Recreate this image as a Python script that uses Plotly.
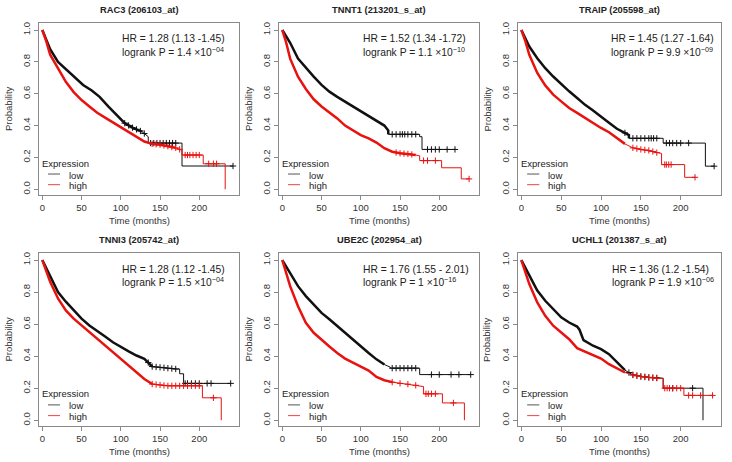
import numpy as np
import plotly.graph_objects as go

# ---------------- data ----------------
titles = ["RAC3 (206103_at)", "TNNT1 (213201_s_at)", "TRAIP (205598_at)",
          "TNNI3 (205742_at)", "UBE2C (202954_at)", "UCHL1 (201387_s_at)"]
hr_labels = ["HR = 1.28 (1.13 -1.45)", "HR = 1.52 (1.34 -1.72)", "HR = 1.45 (1.27 -1.64)",
             "HR = 1.28 (1.12 -1.45)", "HR = 1.76 (1.55 - 2.01)", "HR = 1.36 (1.2 -1.54)"]
p_mantissa = ["1.4", "1.1", "9.9", "1.5", "1", "1.9"]
p_exponent = ["−04", "−10", "−09", "−04", "−16", "−06"]
x_ticks = [0, 50, 100, 150, 200]
y_ticks = [0.0, 0.2, 0.4, 0.6, 0.8, 1.0]
y_ticklabels = ["0.0", "0.2", "0.4", "0.6", "0.8", "1.0"]

# RAC3
rac3_low_t = [0, 5, 10, 20, 31, 42, 52, 63, 73, 84, 95, 105, 116, 127, 135, 135, 178, 178, 243]
rac3_low_s = [1.0, 0.94, 0.88, 0.80, 0.75, 0.70, 0.655, 0.62, 0.58, 0.52, 0.465, 0.415, 0.384, 0.362, 0.33, 0.29, 0.29, 0.146, 0.146]
rac3_low_c = [105, 110, 115, 120, 125, 130, 138, 142, 146, 150, 154, 158, 162, 166, 170, 243]
rac3_high_t = [0, 5, 10, 20, 30, 40, 50, 60, 70, 80, 90, 100, 110, 120, 130, 140, 150, 160, 170, 178, 178, 205, 205, 233, 233]
rac3_high_s = [1.0, 0.93, 0.845, 0.76, 0.675, 0.61, 0.56, 0.52, 0.48, 0.45, 0.42, 0.395, 0.365, 0.33, 0.30, 0.285, 0.28, 0.27, 0.26, 0.245, 0.215, 0.215, 0.16, 0.16, 0.0]
rac3_high_c = [140, 145, 150, 155, 160, 165, 170, 175, 182, 185, 188, 192, 196, 200, 212, 218, 222]

# TNNT1
tnnt1_low_t = [0, 5, 10, 20, 30, 40, 50, 60, 70, 80, 90, 100, 110, 120, 130, 135, 135, 175, 175, 178, 178, 220]
tnnt1_low_s = [1.0, 0.96, 0.92, 0.82, 0.76, 0.707, 0.655, 0.613, 0.58, 0.55, 0.52, 0.487, 0.456, 0.425, 0.40, 0.37, 0.345, 0.345, 0.33, 0.33, 0.25, 0.25]
tnnt1_low_c = [140, 145, 150, 153, 156, 160, 165, 170, 185, 190, 195, 200, 210, 220]
tnnt1_high_t = [0, 5, 10, 20, 30, 40, 50, 60, 70, 80, 90, 100, 110, 120, 130, 140, 150, 160, 170, 175, 175, 203, 203, 228, 228, 238]
tnnt1_high_s = [1.0, 0.92, 0.82, 0.707, 0.63, 0.565, 0.52, 0.485, 0.445, 0.40, 0.372, 0.34, 0.32, 0.293, 0.258, 0.236, 0.226, 0.222, 0.215, 0.21, 0.18, 0.18, 0.135, 0.135, 0.065, 0.065]
tnnt1_high_c = [145, 150, 155, 160, 165, 180, 185, 195, 238]

# TRAIP
traip_low_t = [0, 5, 10, 20, 30, 40, 50, 60, 70, 80, 90, 100, 110, 120, 130, 135, 135, 178, 178, 231, 231, 242]
traip_low_s = [1.0, 0.95, 0.896, 0.823, 0.76, 0.708, 0.66, 0.615, 0.573, 0.53, 0.494, 0.458, 0.417, 0.38, 0.354, 0.34, 0.32, 0.32, 0.29, 0.29, 0.145, 0.145]
traip_low_c = [130, 140, 145, 150, 155, 160, 163, 166, 170, 182, 186, 190, 195, 200, 210, 242]
traip_high_t = [0, 5, 10, 20, 30, 40, 50, 60, 70, 80, 90, 100, 110, 120, 130, 140, 150, 160, 170, 176, 176, 205, 205, 218]
traip_high_s = [1.0, 0.93, 0.844, 0.73, 0.652, 0.594, 0.552, 0.51, 0.48, 0.448, 0.417, 0.385, 0.358, 0.323, 0.285, 0.26, 0.25, 0.244, 0.23, 0.225, 0.155, 0.155, 0.075, 0.075]
traip_high_c = [140, 145, 150, 155, 160, 165, 170, 180, 182, 185, 188, 218]

# TNNI3
tnni3_low_t = [0, 5, 10, 20, 30, 40, 50, 60, 70, 80, 90, 100, 110, 120, 130, 135, 140, 170, 175, 175, 180, 180, 240]
tnni3_low_s = [1.0, 0.95, 0.895, 0.80, 0.74, 0.69, 0.634, 0.592, 0.56, 0.523, 0.487, 0.456, 0.43, 0.404, 0.383, 0.36, 0.335, 0.32, 0.32, 0.29, 0.29, 0.23, 0.23]
tnni3_low_c = [135, 140, 145, 150, 155, 160, 165, 170, 182, 185, 190, 195, 200, 210, 215, 240]
tnni3_high_t = [0, 5, 10, 20, 30, 40, 50, 60, 70, 80, 90, 100, 110, 120, 130, 140, 150, 160, 204, 204, 228, 228]
tnni3_high_s = [1.0, 0.93, 0.864, 0.76, 0.686, 0.634, 0.592, 0.55, 0.508, 0.467, 0.425, 0.383, 0.34, 0.30, 0.257, 0.226, 0.22, 0.215, 0.215, 0.14, 0.14, 0.0]
tnni3_high_c = [140, 145, 150, 155, 160, 165, 170, 175, 180, 185, 190, 195, 200, 218]

# UBE2C
ube2c_low_t = [0, 5, 10, 20, 30, 40, 50, 60, 70, 80, 90, 100, 110, 120, 130, 138, 138, 175, 175, 240]
ube2c_low_s = [1.0, 0.96, 0.92, 0.837, 0.775, 0.723, 0.67, 0.63, 0.587, 0.546, 0.504, 0.4625, 0.42, 0.38, 0.348, 0.33, 0.325, 0.325, 0.285, 0.285]
ube2c_low_c = [140, 145, 150, 155, 160, 165, 170, 190, 200, 215, 225, 240]
ube2c_high_t = [0, 5, 10, 20, 30, 40, 50, 60, 70, 80, 90, 100, 110, 120, 130, 140, 150, 160, 170, 180, 180, 204, 204, 232, 232]
ube2c_high_s = [1.0, 0.92, 0.837, 0.712, 0.608, 0.546, 0.50, 0.46, 0.42, 0.385, 0.36, 0.335, 0.31, 0.27, 0.25, 0.238, 0.23, 0.225, 0.218, 0.21, 0.165, 0.165, 0.108, 0.108, 0.0]
ube2c_high_c = [140, 150, 160, 170, 183, 186, 190, 195, 218]

# UCHL1
uchl1_low_t = [0, 5, 10, 20, 30, 40, 50, 60, 70, 73, 78, 90, 100, 110, 120, 130, 140, 150, 160, 178, 178, 228, 228]
uchl1_low_s = [1.0, 0.95, 0.90, 0.81, 0.746, 0.694, 0.642, 0.61, 0.585, 0.565, 0.50, 0.465, 0.444, 0.4125, 0.36, 0.3125, 0.283, 0.273, 0.267, 0.2625, 0.20, 0.20, 0.0]
uchl1_low_c = [135, 140, 145, 150, 155, 160, 165, 170, 190, 215]
uchl1_high_t = [0, 5, 10, 20, 30, 40, 50, 60, 70, 80, 90, 100, 110, 120, 130, 140, 150, 170, 178, 178, 204, 204, 240]
uchl1_high_s = [1.0, 0.93, 0.85, 0.735, 0.652, 0.59, 0.548, 0.506, 0.45, 0.43, 0.41, 0.385, 0.35, 0.325, 0.298, 0.283, 0.273, 0.2625, 0.26, 0.20, 0.20, 0.155, 0.155]
uchl1_high_c = [140, 145, 150, 155, 160, 165, 170, 180, 183, 186, 190, 195, 200, 210, 215, 225, 240]

# months up to which the curve is crowded with censor marks (drawn thicker)
dense_low = [130, 135, 135, 140, 135, 130]
dense_high = [175, 170, 135, 140, 140, 135]

curves = [
    (rac3_low_t, rac3_low_s, rac3_low_c, rac3_high_t, rac3_high_s, rac3_high_c),
    (tnnt1_low_t, tnnt1_low_s, tnnt1_low_c, tnnt1_high_t, tnnt1_high_s, tnnt1_high_c),
    (traip_low_t, traip_low_s, traip_low_c, traip_high_t, traip_high_s, traip_high_c),
    (tnni3_low_t, tnni3_low_s, tnni3_low_c, tnni3_high_t, tnni3_high_s, tnni3_high_c),
    (ube2c_low_t, ube2c_low_s, ube2c_low_c, ube2c_high_t, ube2c_high_s, ube2c_high_c),
    (uchl1_low_t, uchl1_low_s, uchl1_low_c, uchl1_high_t, uchl1_high_s, uchl1_high_c),
]

# ---------------- layout geometry ----------------
W, H = 732, 462
col_px = [(39, 239), (279, 479), (518, 721)]
row_px = [(23, 195), (253, 426)]
hr_x = [0.405, 0.41, 0.448, 0.405, 0.41, 0.453]

FONT = "Liberation Sans, Arial, sans-serif"
BLACK = "#111111"
RED = "#e8120f"
AXC = "#8a8a8a"
TXT = "#333333"

fig = go.Figure()
annotations = []
shapes = []


def add_curve(ax, t, s, c, dense_end, color):
    xa, ya = ("x", "y") if ax == 1 else (f"x{ax}", f"y{ax}")
    t = np.asarray(t, float)
    s = np.asarray(s, float)
    fig.add_trace(go.Scatter(x=t, y=s, mode="lines", xaxis=xa, yaxis=ya,
                             line=dict(color=color, width=1), showlegend=False,
                             hoverinfo="skip"))
    m = t <= dense_end
    fig.add_trace(go.Scatter(x=t[m], y=s[m], mode="lines", xaxis=xa, yaxis=ya,
                             line=dict(color=color, width=2.5), showlegend=False,
                             hoverinfo="skip"))
    cy = np.interp(c, t, s)
    fig.add_trace(go.Scatter(x=c, y=cy, mode="markers", xaxis=xa, yaxis=ya,
                             marker=dict(symbol="cross-thin", size=4.5,
                                         line=dict(color=color, width=1)),
                             showlegend=False, hoverinfo="skip"))


for i in range(6):
    r, cidx = divmod(i, 3)
    ax = i + 1
    x0, x1 = col_px[cidx]
    y0, y1 = row_px[r]
    xdom = [x0 / W, x1 / W]
    ydom = [1 - y1 / H, 1 - y0 / H]
    sfx = "" if ax == 1 else str(ax)
    fig.update_layout(**{
        f"xaxis{sfx}": dict(domain=xdom, range=[-4.2, 250.6], anchor=f"y{sfx}",
                            tickvals=x_ticks, ticks="outside", ticklen=4,
                            tickcolor=AXC, showline=True, mirror=True,
                            linecolor=AXC, linewidth=1, showgrid=False,
                            zeroline=False, tickfont=dict(size=9.5, color=TXT)),
        f"yaxis{sfx}": dict(domain=ydom, range=[-0.036, 1.044], anchor=f"x{sfx}",
                            tickvals=y_ticks, ticktext=y_ticklabels, tickangle=-90,
                            ticks="outside", ticklen=4, tickcolor=AXC,
                            showline=True, mirror=True, linecolor=AXC, linewidth=1,
                            showgrid=False, zeroline=False,
                            tickfont=dict(size=9.5, color=TXT)),
    })
    lt, ls, lc, ht, hs, hc = curves[i]
    add_curve(ax, lt, ls, lc, dense_low[i], BLACK)
    add_curve(ax, ht, hs, hc, dense_high[i], RED)

    xr = "x domain" if ax == 1 else f"x{ax} domain"
    yr = "y domain" if ax == 1 else f"y{ax} domain"
    hpx = y1 - y0
    # title
    annotations.append(dict(text=f"<b>{titles[i]}</b>", xref=xr, yref=yr, x=0.5,
                            y=1 + 13 / hpx, xanchor="center", yanchor="middle",
                            showarrow=False, font=dict(size=9.3, color="#222", family=FONT)))
    # axis titles
    annotations.append(dict(text="Time (months)", xref=xr, yref=yr, x=0.5,
                            y=-25 / hpx, xanchor="center", yanchor="middle",
                            showarrow=False, font=dict(size=9.5, color=TXT, family=FONT)))
    annotations.append(dict(text="Probability", xref=xr, yref=yr, x=-31 / 200,
                            y=0.5, xanchor="center", yanchor="middle", textangle=-90,
                            showarrow=False, font=dict(size=9.5, color=TXT, family=FONT)))
    # HR / logrank text
    annotations.append(dict(text=hr_labels[i], xref=xr, yref=yr, x=hr_x[i], y=0.907,
                            xanchor="left", yanchor="middle", showarrow=False,
                            font=dict(size=10.3, color="#222", family=FONT)))
    annotations.append(dict(text=f"logrank P = {p_mantissa[i]} ×10<sup>{p_exponent[i]}</sup>",
                            xref=xr, yref=yr, x=hr_x[i], y=0.835,
                            xanchor="left", yanchor="middle", showarrow=False,
                            font=dict(size=10.3, color="#222", family=FONT)))
    # legend
    annotations.append(dict(text="Expression", xref=xr, yref=yr, x=0.005, y=0.186,
                            xanchor="left", yanchor="middle", showarrow=False,
                            font=dict(size=9.5, color="#222", family=FONT)))
    for lab, yy, col in (("low", 0.116, "#555555"), ("high", 0.054, "#ee4444")):
        annotations.append(dict(text=lab, xref=xr, yref=yr, x=0.14, y=yy,
                                xanchor="left", yanchor="middle", showarrow=False,
                                font=dict(size=9.5, color="#222", family=FONT)))
        shapes.append(dict(type="line", xref=xr, yref=yr, x0=0.045, x1=0.105,
                           y0=yy + 0.006, y1=yy + 0.006, line=dict(color=col, width=1)))

fig.update_layout(width=W, height=H, margin=dict(l=0, r=0, t=0, b=0),
                  paper_bgcolor="white", plot_bgcolor="white",
                  font=dict(family=FONT, color=TXT), showlegend=False,
                  annotations=annotations, shapes=shapes)

fig.write_html("out.html", config={"displayModeBar": False},
               post_script="document.body.style.margin='0';document.body.style.overflow='hidden';")
